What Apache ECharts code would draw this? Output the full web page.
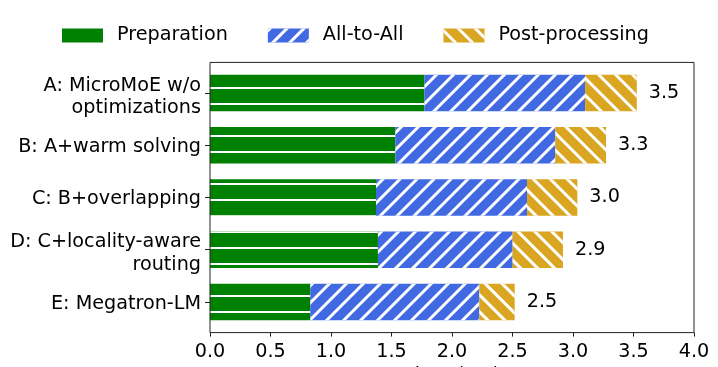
<!DOCTYPE html>
<html>
<head>
<meta charset="utf-8">
<script src="https://cdn.jsdelivr.net/npm/echarts@6/dist/echarts.min.js"></script>
<style>
html, body { margin: 0; background: #fff; }
#chart_main { width: 718px; height: 367px; }
</style>
</head>
<body>
<div id="chart_main"></div>
<script>
// values (ms)
var categories = ['A: MicroMoE w/o\noptimizations', 'B: A+warm solving', 'C: B+overlapping', 'D: C+locality-aware\nrouting', 'E: Megatron-LM'];
var preparation = [1.772, 1.532, 1.372, 1.388, 0.829];
var all_to_all = [1.328, 1.322, 1.248, 1.113, 1.397];
var post_processing = [0.427, 0.419, 0.416, 0.416, 0.292];
var series_names = ['Preparation', 'All-to-All', 'Post-processing'];

var font = 'DejaVu Sans';
var font_size = 19.2;
var grid = {left: 210, right: 24, top: 67, bottom: 39};
var frame_pad = 4.6;

var totals = preparation.map(function (v, i) {
    return v + all_to_all[i] + post_processing[i];
});

function hatch(angle, dash_y) {
    return {
        symbol: 'rect',
        symbolSize: 1,
        color: '#ffffff',
        dashArrayX: [1, 0],
        dashArrayY: dash_y,
        rotation: angle
    };
}

var option = {
    backgroundColor: '#fff',
    animation: false,
    textStyle: {fontFamily: font},
    legend: {
        data: [
            {name: series_names[0], itemStyle: {decal: 'none'}},
            series_names[1],
            series_names[2]
        ],
        left: 62,
        top: 26,
        padding: 0,
        icon: 'rect',
        itemWidth: 41,
        itemHeight: 14,
        itemGap: 40,
        textStyle: {fontFamily: font, fontSize: font_size, color: '#000', padding: [0, 0, 0, 9]}
    },
    grid: {
        left: grid.left, right: grid.right, top: grid.top, bottom: grid.bottom,
        containLabel: false,
        outerBoundsMode: 'none'
    },
    graphic: [{
        type: 'rect',
        shape: {
            x: grid.left,
            y: grid.top - frame_pad,
            width: 718 - grid.left - grid.right,
            height: 367 - grid.top - grid.bottom + 2 * frame_pad
        },
        style: {fill: 'none', stroke: '#222', lineWidth: 1},
        z: 10
    }],
    xAxis: {
        type: 'value',
        min: 0,
        max: 4,
        interval: 0.5,
        offset: frame_pad,
        splitLine: {show: false},
        axisLine: {show: false},
        axisTick: {show: true, length: 4, lineStyle: {color: '#222'}},
        axisLabel: {
            fontFamily: font, fontSize: font_size, color: '#000', margin: 10,
            formatter: function (v) { return v.toFixed(1); }
        },
        name: 'Time (ms)',
        nameLocation: 'middle',
        nameGap: 27,
        nameTextStyle: {fontFamily: font, fontSize: font_size, color: '#000'}
    },
    yAxis: {
        type: 'category',
        inverse: true,
        data: categories,
        axisLine: {show: false},
        axisTick: {show: true, alignWithLabel: true, length: 5, lineStyle: {color: '#222'}},
        axisLabel: {
            fontFamily: font, fontSize: font_size, color: '#000', margin: 9, align: 'right',
            // labels sit a little below their ticks in the original
            formatter: function (v) {
                var lines = v.split('\n');
                if (lines.length === 1) return '{one|' + v + '}';
                return '{two|' + lines.join('}\n{two|') + '}';
            },
            rich: {
                one: {fontFamily: font, fontSize: font_size, color: '#000', lineHeight: 22.5, padding: [4, 0, 0, 0]},
                two: {fontFamily: font, fontSize: font_size, color: '#000', lineHeight: 22.5, padding: [8, 0, 0, 0]}
            }
        }
    },
    series: [
        {
            name: series_names[0],
            type: 'bar',
            stack: 'total',
            barWidth: '70%',
            data: preparation,
            itemStyle: {color: '#008000', decal: hatch(0, [0, 6.7, 2, 6.9])}
        },
        {
            name: series_names[1],
            type: 'bar',
            stack: 'total',
            barWidth: '70%',
            data: all_to_all,
            itemStyle: {color: '#4169e1', decal: hatch(-Math.PI / 4, [2.2, 8.8])}
        },
        {
            name: series_names[2],
            type: 'bar',
            stack: 'total',
            barWidth: '70%',
            data: post_processing,
            itemStyle: {color: '#daa520', decal: hatch(Math.PI / 4, [2.2, 8.8])},
            label: {
                show: true,
                position: 'right',
                distance: 12,
                fontFamily: font,
                fontSize: font_size,
                color: '#000',
                formatter: function (p) { return totals[p.dataIndex].toFixed(1); }
            }
        }
    ]
};

var chart = echarts.init(document.getElementById('chart_main'));
chart.setOption(option);
</script>
</body>
</html>
